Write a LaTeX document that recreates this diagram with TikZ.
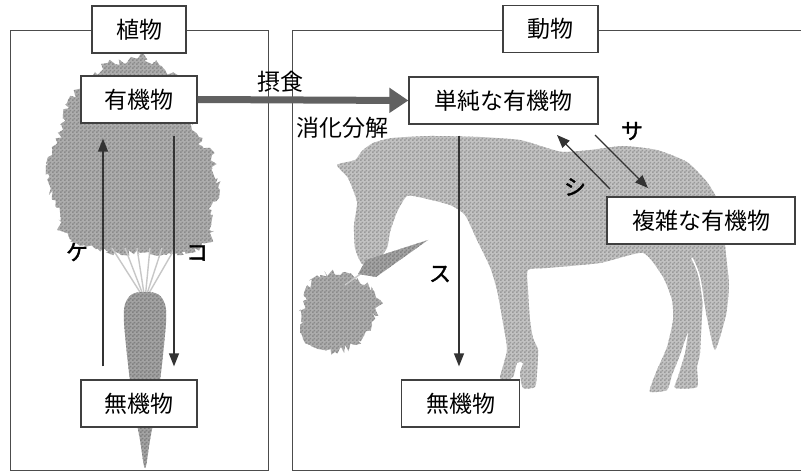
\documentclass[tikz,border=0pt]{standalone}
\usepackage{fontspec}
\setmainfont{Noto Sans CJK JP}
\newfontfamily\boldjp[FakeBold=1.5]{Noto Sans CJK JP}
\usetikzlibrary{arrows.meta,patterns,decorations.pathmorphing}
\pgfdeclarepatternformonly{finecheck}{\pgfpointorigin}{\pgfqpoint{4pt}{4pt}}{\pgfqpoint{4pt}{4pt}}{%
  \pgfpathrectangle{\pgfpointorigin}{\pgfqpoint{2pt}{2pt}}%
  \pgfpathrectangle{\pgfqpoint{2pt}{2pt}}{\pgfqpoint{2pt}{2pt}}%
  \pgfusepath{fill}}
\begin{document}
\begin{tikzpicture}[x=1pt,y=-1pt,
  font=\fontsize{23}{26}\selectfont,
  box/.style={draw=black!75, line width=1.2pt, fill=white, inner sep=0pt, minimum height=47pt},
  frame/.style={draw=black!70, line width=0.9pt},
  arr/.style={draw=black!80, line width=1.3pt, -{Triangle[length=13pt,width=10pt]}},
  lbl/.style={inner sep=0pt},
  kana/.style={inner sep=0pt, font=\fontsize{22}{24}\selectfont\boldjp},
  horse/.style={fill=black!24, postaction={pattern=finecheck, pattern color=black!40}},
  leafy/.style={fill=black!32, decorate, decoration={random steps, segment length=3pt, amplitude=4pt}, postaction={pattern=finecheck, pattern color=black!46}},
  root/.style={fill=black!36, postaction={pattern=finecheck, pattern color=black!50}},
  stem/.style={draw=black!22, line width=1.4pt}]
\useasboundingbox (0,0) rectangle (801,473);
\fill[white] (0,0) rectangle (801,473);
% frames
\draw[frame] (10,30) rectangle (268,470);
\draw[frame] (801,30) -- (292,30) -- (292,470) -- (801,470);
% carrot plant (left)
\path[leafy] (95,72) -- (110,60) -- (125,64) -- (140,55) -- (155,62) -- (165,70) -- (185,80) -- (192,100) -- (192,130) -- (212,155) -- (220,190) -- (210,215) -- (212,238) -- (195,250) -- (170,254) -- (150,252) -- (120,254) -- (97,248) -- (72,240) -- (57,230) -- (60,212) -- (47,180) -- (52,155) -- (63,130) -- (68,100) -- cycle;
\foreach \sx in {112,125,137,150,162,175}{\draw[stem] (\sx,248) -- (145,300);}
\fill[root] plot[smooth cycle, tension=0.6] coordinates {(124,310) (131,295) (145,292) (159,295) (166,310) (164,345) (158,395) (150,440) (145,468) (140,440) (132,395) (126,345)};
% horse
\fill[horse] plot[smooth cycle, tension=0.35] coordinates {
 (337,165) (355,160) (362,151) (373,143) (392,138) (430,136) (480,137) (520,140) (547,148) (563,152) (590,150) (623,146) (657,150) (687,162) (707,182) (720,205) (724,235) (726,255) (729,285) (726,315) (715,350) (707,318) (703,300)
 (700,353) (697,367) (697,387) (675,388) (678,377) (685,353) (688,332)
 (680,355) (672,375) (667,390) (650,392) (652,383) (657,370) (667,347) (673,320) (672,300) (663,277) (643,253)
 (600,263) (547,268) (528,270)
 (528,290) (530,320) (533,338) (538,350) (537,373) (535,387) (523,388) (520,373) (523,363) (517,363) (513,377) (503,381) (500,377) (507,350) (503,323) (497,290) (490,267) (477,240) (465,215) (450,205) (423,198) (407,196)
 (397,212) (390,232) (387,248) (375,264) (362,264) (355,248) (354,225) (357,202) (348,178)};
\draw[white, line width=1.5pt] (692,258) .. controls (700,275) .. (705,315);
% small carrot eaten by the horse
\path[leafy] (305,290) -- (320,275) -- (345,272) -- (365,285) -- (380,300) -- (372,325) -- (355,345) -- (335,352) -- (310,345) -- (300,325) -- cycle;
\draw[stem] (366,270) -- (345,285);
\fill[root] (358,274) -- (366,260) -- (428,240) -- (376,277) -- cycle;
% boxes
\node[box, minimum width=94pt] (plant) at (139,29.5) {植物};
\node[box, minimum width=95pt] (animal) at (550.5,29) {動物};
\node[box, minimum width=116pt] (org1) at (139,99.5) {有機物};
\node[box, minimum width=116pt] (inorg1) at (139,403.5) {無機物};
\node[box, minimum width=189pt] (simple) at (503.5,100.5) {単純な有機物};
\node[box, minimum width=188pt] (complex) at (701,220.5) {複雑な有機物};
\node[box, minimum width=118pt] (inorg2) at (460.5,403.5) {無機物};
% arrows
\coordinate (kx) at (103,0);
\coordinate (cx) at (174,0);
\coordinate (sx) at (459,0);
\draw[arr, shorten <=13pt, shorten >=15pt] (inorg1.north -| kx) -- (org1.south -| kx);
\draw[arr, shorten <=12pt, shorten >=13pt] (org1.south -| cx) -- (inorg1.north -| cx);
\draw[arr, shorten <=11pt, shorten >=13pt] (simple.south -| sx) -- (inorg2.north -| sx);
\draw[line width=7pt, draw=black!62, -{Triangle[length=19pt,width=24pt]}] (org1.east) -- (simple.west);
\coordinate (sa1) at (595,135);
\coordinate (sa2) at (648,188);
\coordinate (si1) at (610,189);
\coordinate (si2) at (557,135);
\draw[arr] (sa1) -- (sa2);
\draw[arr] (si1) -- (si2);
% labels
\node[lbl] (l1) at (280,82) {摂食};
\node[lbl] (l2) at (342,128) {消化分解};
\node[kana] (lk) at (77,252) {ケ};
\node[kana] (lc) at (197,253) {コ};
\node[kana] (lsa) at (632,131) {サ};
\node[kana] (lsi) at (575,187) {シ};
\node[kana] (lsu) at (440,274) {ス};
\end{tikzpicture}
\end{document}
